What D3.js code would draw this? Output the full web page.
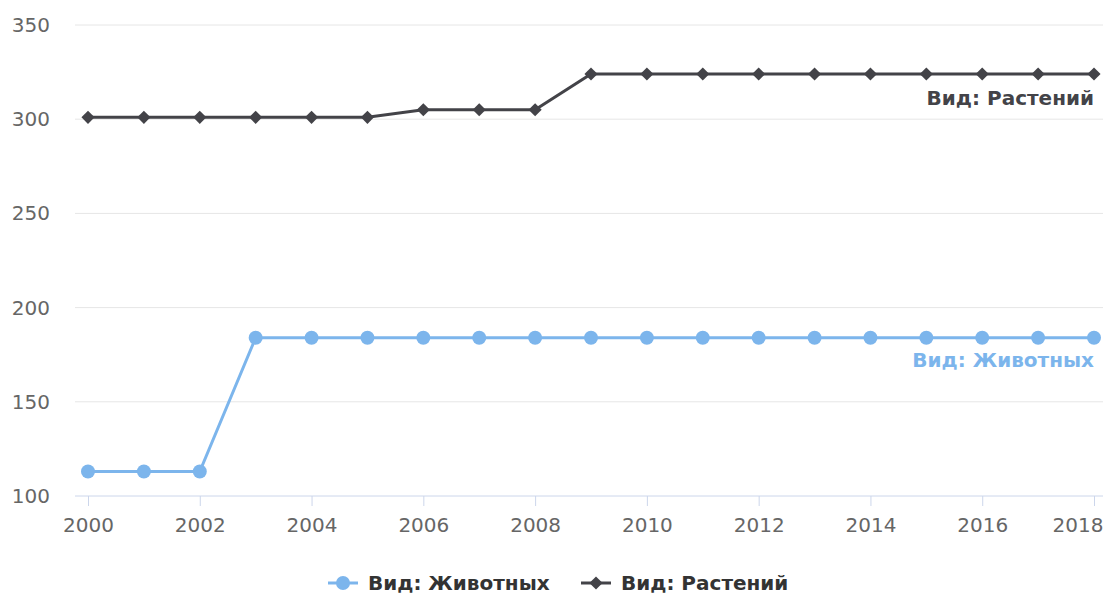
<!DOCTYPE html>
<html>
<head>
<meta charset="utf-8">
<script src="https://cdn.jsdelivr.net/npm/d3@7"></script>
<style>
  body { margin: 0; background: #fff; }
  text { font-family: "DejaVu Sans", sans-serif; }
</style>
</head>
<body>
<div id="chart"></div>
<script>
(function () {
    // Set dimensions
    const width = 1107;
    const height = 597;
    const margin = { top: 25, right: 13, bottom: 101, left: 88 };

    // Data
    const years = [2000, 2001, 2002, 2003, 2004, 2005, 2006, 2007, 2008, 2009,
        2010, 2011, 2012, 2013, 2014, 2015, 2016, 2017, 2018];
    const animals = [113, 113, 113, 184, 184, 184, 184, 184, 184, 184,
        184, 184, 184, 184, 184, 184, 184, 184, 184];
    const plants = [301, 301, 301, 301, 301, 301, 305, 305, 305, 324,
        324, 324, 324, 324, 324, 324, 324, 324, 324];
    const yTicks = [100, 150, 200, 250, 300, 350];
    const xTicks = [2000, 2002, 2004, 2006, 2008, 2010, 2012, 2014, 2016, 2018];

    const series = [
        { name: "Вид: Животных", values: animals, color: "#7cb5ec", symbol: "circle", labelDy: 29 },
        { name: "Вид: Растений", values: plants, color: "#434348", symbol: "diamond", labelDy: 31 }
    ];

    const svg = d3.select("#chart")
        .append("svg")
        .attr("width", width)
        .attr("height", height);

    const x = d3.scaleLinear()
        .domain([2000, 2018])
        .range([margin.left, width - margin.right]);

    const y = d3.scaleLinear()
        .domain([100, 350])
        .range([height - margin.bottom, margin.top]);

    // Gridlines
    svg.append("g")
        .selectAll("line")
        .data(yTicks.filter(d => d > 100))
        .enter()
        .append("line")
        .attr("x1", 75)
        .attr("x2", width - 4)
        .attr("y1", d => y(d))
        .attr("y2", d => y(d))
        .style("stroke", "#e6e6e6")
        .style("stroke-width", 1);

    // Y labels
    svg.append("g")
        .selectAll("text")
        .data(yTicks)
        .enter()
        .append("text")
        .attr("x", 50)
        .attr("y", d => y(d) + 7)
        .attr("text-anchor", "end")
        .style("font-size", "20px")
        .style("fill", "#666")
        .text(d => d);

    // X axis
    const xAxis = svg.append("g")
        .attr("transform", `translate(0,${y(100)})`)
        .call(d3.axisBottom(x).tickValues(xTicks).tickFormat(d3.format("d")).tickSize(10).tickPadding(12));
    xAxis.select(".domain").attr("d", `M75,0H${width - 4}`).style("stroke", "#ccd6eb");
    xAxis.selectAll(".tick line").style("stroke", "#ccd6eb");
    xAxis.selectAll(".tick text")
        .style("font-family", "DejaVu Sans, sans-serif")
        .style("font-size", "20px")
        .style("fill", "#666")
        .filter(d => d === 2018)
        .attr("text-anchor", "end")
        .attr("x", 9);

    const line = d3.line()
        .x((d, i) => x(years[i]))
        .y(d => y(d));

    const diamond = d3.symbol().type(d3.symbolDiamond2).size(110);

    series.forEach(s => {
        svg.append("path")
            .datum(s.values)
            .attr("d", line)
            .style("fill", "none")
            .style("stroke", s.color)
            .style("stroke-width", 3);

        const pts = svg.append("g")
            .selectAll("g")
            .data(s.values)
            .enter()
            .append("g")
            .attr("transform", (d, i) => `translate(${x(years[i])},${y(d)})`);

        if (s.symbol === "circle") {
            pts.append("circle").attr("r", 7).style("fill", s.color);
        } else {
            pts.append("path").attr("d", diamond).style("fill", s.color);
        }

        const last = s.values[s.values.length - 1];
        svg.append("text")
            .attr("x", x(2018))
            .attr("y", y(last) + s.labelDy)
            .attr("text-anchor", "end")
            .style("font-size", "20px")
            .style("font-weight", "bold")
            .style("fill", s.color)
            .text(s.name);
    });

    // Legend
    const legend = svg.append("g").attr("transform", "translate(0,583)");
    const legendX = [328, 581];
    series.forEach((s, i) => {
        const g = legend.append("g").attr("transform", `translate(${legendX[i]},0)`);
        g.append("line")
            .attr("x1", 0).attr("x2", 30)
            .style("stroke", s.color)
            .style("stroke-width", 3);
        if (s.symbol === "circle") {
            g.append("circle").attr("cx", 15).attr("r", 7).style("fill", s.color);
        } else {
            g.append("path").attr("transform", "translate(15,0)").attr("d", diamond).style("fill", s.color);
        }
        g.append("text")
            .attr("x", 40)
            .attr("y", 7)
            .style("font-size", "20px")
            .style("font-weight", "bold")
            .style("fill", "#333")
            .text(s.name);
    });
})();
</script>
</body>
</html>
